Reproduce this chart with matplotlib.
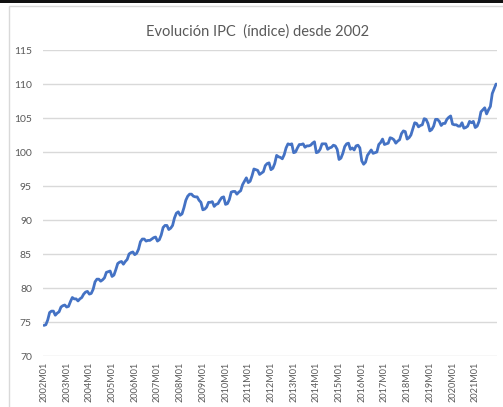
import matplotlib
matplotlib.use("Agg")
import matplotlib.pyplot as plt
from matplotlib.patches import Rectangle

# monthly index values, one list per year (Jan..Dec)
ipc = {
    2002: [74.5, 74.6, 75.3, 76.4, 76.6, 76.6, 76.0, 76.3, 76.5, 77.2, 77.4, 77.5],
    2003: [77.2, 77.3, 78.0, 78.6, 78.4, 78.4, 78.1, 78.4, 78.6, 79.1, 79.4, 79.5],
    2004: [79.1, 79.2, 79.8, 80.9, 81.3, 81.3, 81.0, 81.2, 81.5, 82.3, 82.4, 82.5],
    2005: [81.7, 81.9, 82.7, 83.6, 83.8, 83.9, 83.5, 83.9, 84.2, 85.0, 85.2, 85.3],
    2006: [84.9, 85.1, 85.7, 86.8, 87.2, 87.2, 86.9, 87.0, 87.0, 87.2, 87.4, 87.5],
    2007: [86.9, 87.1, 87.8, 88.9, 89.2, 89.2, 88.6, 88.8, 89.2, 90.3, 91.0, 91.2],
    2008: [90.7, 90.9, 91.8, 92.9, 93.5, 93.8, 93.8, 93.5, 93.4, 93.4, 92.9, 92.6],
    2009: [91.5, 91.6, 91.9, 92.6, 92.6, 92.7, 92.0, 92.3, 92.4, 92.9, 93.3, 93.4],
    2010: [92.3, 92.4, 93.0, 94.1, 94.2, 94.2, 93.8, 94.1, 94.3, 95.2, 95.7, 96.2],
    2011: [95.5, 95.7, 96.5, 97.5, 97.4, 97.3, 96.7, 96.9, 97.1, 98.0, 98.3, 98.4],
    2012: [97.4, 97.6, 98.3, 99.5, 99.3, 99.2, 99.0, 99.6, 100.6, 101.2, 101.1, 101.2],
    2013: [99.9, 100.0, 100.6, 101.1, 101.1, 101.2, 100.7, 100.9, 100.9, 101.0, 101.3, 101.5],
    2014: [99.9, 100.0, 100.4, 101.2, 101.2, 101.2, 100.4, 100.6, 100.7, 101.0, 100.9, 100.4],
    2015: [98.9, 99.1, 99.8, 100.8, 101.2, 101.3, 100.4, 100.6, 100.3, 100.9, 101.0, 100.6],
    2016: [98.7, 98.2, 98.5, 99.5, 99.9, 100.3, 99.8, 99.9, 100.0, 101.1, 101.4, 101.9],
    2017: [101.1, 101.2, 101.3, 102.1, 102.0, 101.8, 101.3, 101.6, 101.8, 102.7, 103.1, 103.0],
    2018: [101.9, 102.1, 102.5, 103.4, 104.3, 104.2, 103.7, 103.9, 104.0, 104.9, 104.8, 104.2],
    2019: [103.1, 103.3, 103.8, 104.8, 104.8, 104.5, 103.9, 104.2, 104.2, 104.8, 105.1, 105.3],
    2020: [104.1, 104.0, 104.0, 103.8, 103.8, 104.3, 103.5, 103.6, 103.8, 104.5, 104.3, 104.5],
    2021: [103.6, 103.8, 104.5, 105.9, 106.2, 106.5, 105.6, 106.2, 106.7, 108.6, 109.3, 110.0],
}

labels = []
values = []
for year, months in ipc.items():
    for m, v in enumerate(months, start=1):
        labels.append(f"{year}M{m:02d}")
        values.append(v)

W, H = 503, 407
fig = plt.figure(figsize=(W / 100, H / 100), dpi=100)
fig.patch.set_facecolor("white")

# screenshot edge + chart frame
fig.add_artist(Rectangle((0, 1 - 3 / H), 1, 3 / H, transform=fig.transFigure,
                         facecolor="#111111", edgecolor="none"))
fig.add_artist(Rectangle((9 / W, -0.05), 1.1, 1 - 6 / H + 0.05, transform=fig.transFigure,
                         facecolor="none", edgecolor="#d9d9d9", linewidth=1.0))

ax = fig.add_axes([43 / W, 1 - 356 / H, (497 - 43) / W, (356 - 50) / H])
x = list(range(len(values)))
ax.plot(x, values, color="#4472C4", linewidth=2.0, solid_capstyle="round")

ax.set_xlim(-0.5, len(values) - 0.5)
ax.set_ylim(70, 115)
ax.set_yticks(range(70, 116, 5))
ax.set_xticks(x[::12])
ax.set_xticklabels(labels[::12], rotation=90)
ax.grid(axis="y", color="#d9d9d9", linewidth=1.0)
ax.set_axisbelow(True)
for s in ax.spines.values():
    s.set_visible(False)
ax.tick_params(length=0, labelsize=7.5, labelcolor="#595959")
ax.tick_params(axis="y", pad=8)
ax.tick_params(axis="x", pad=4, labelsize=6.6)
for t in ax.get_xticklabels() + ax.get_yticklabels():
    t.set_fontfamily("Lato")

fig.text(258 / W, 1 - 32 / H, "Evolución IPC  (índice) desde 2002", ha="center", va="center",
         fontsize=10.5, color="#595959", fontfamily="Lato")

fig.savefig("out.png", dpi=100)
